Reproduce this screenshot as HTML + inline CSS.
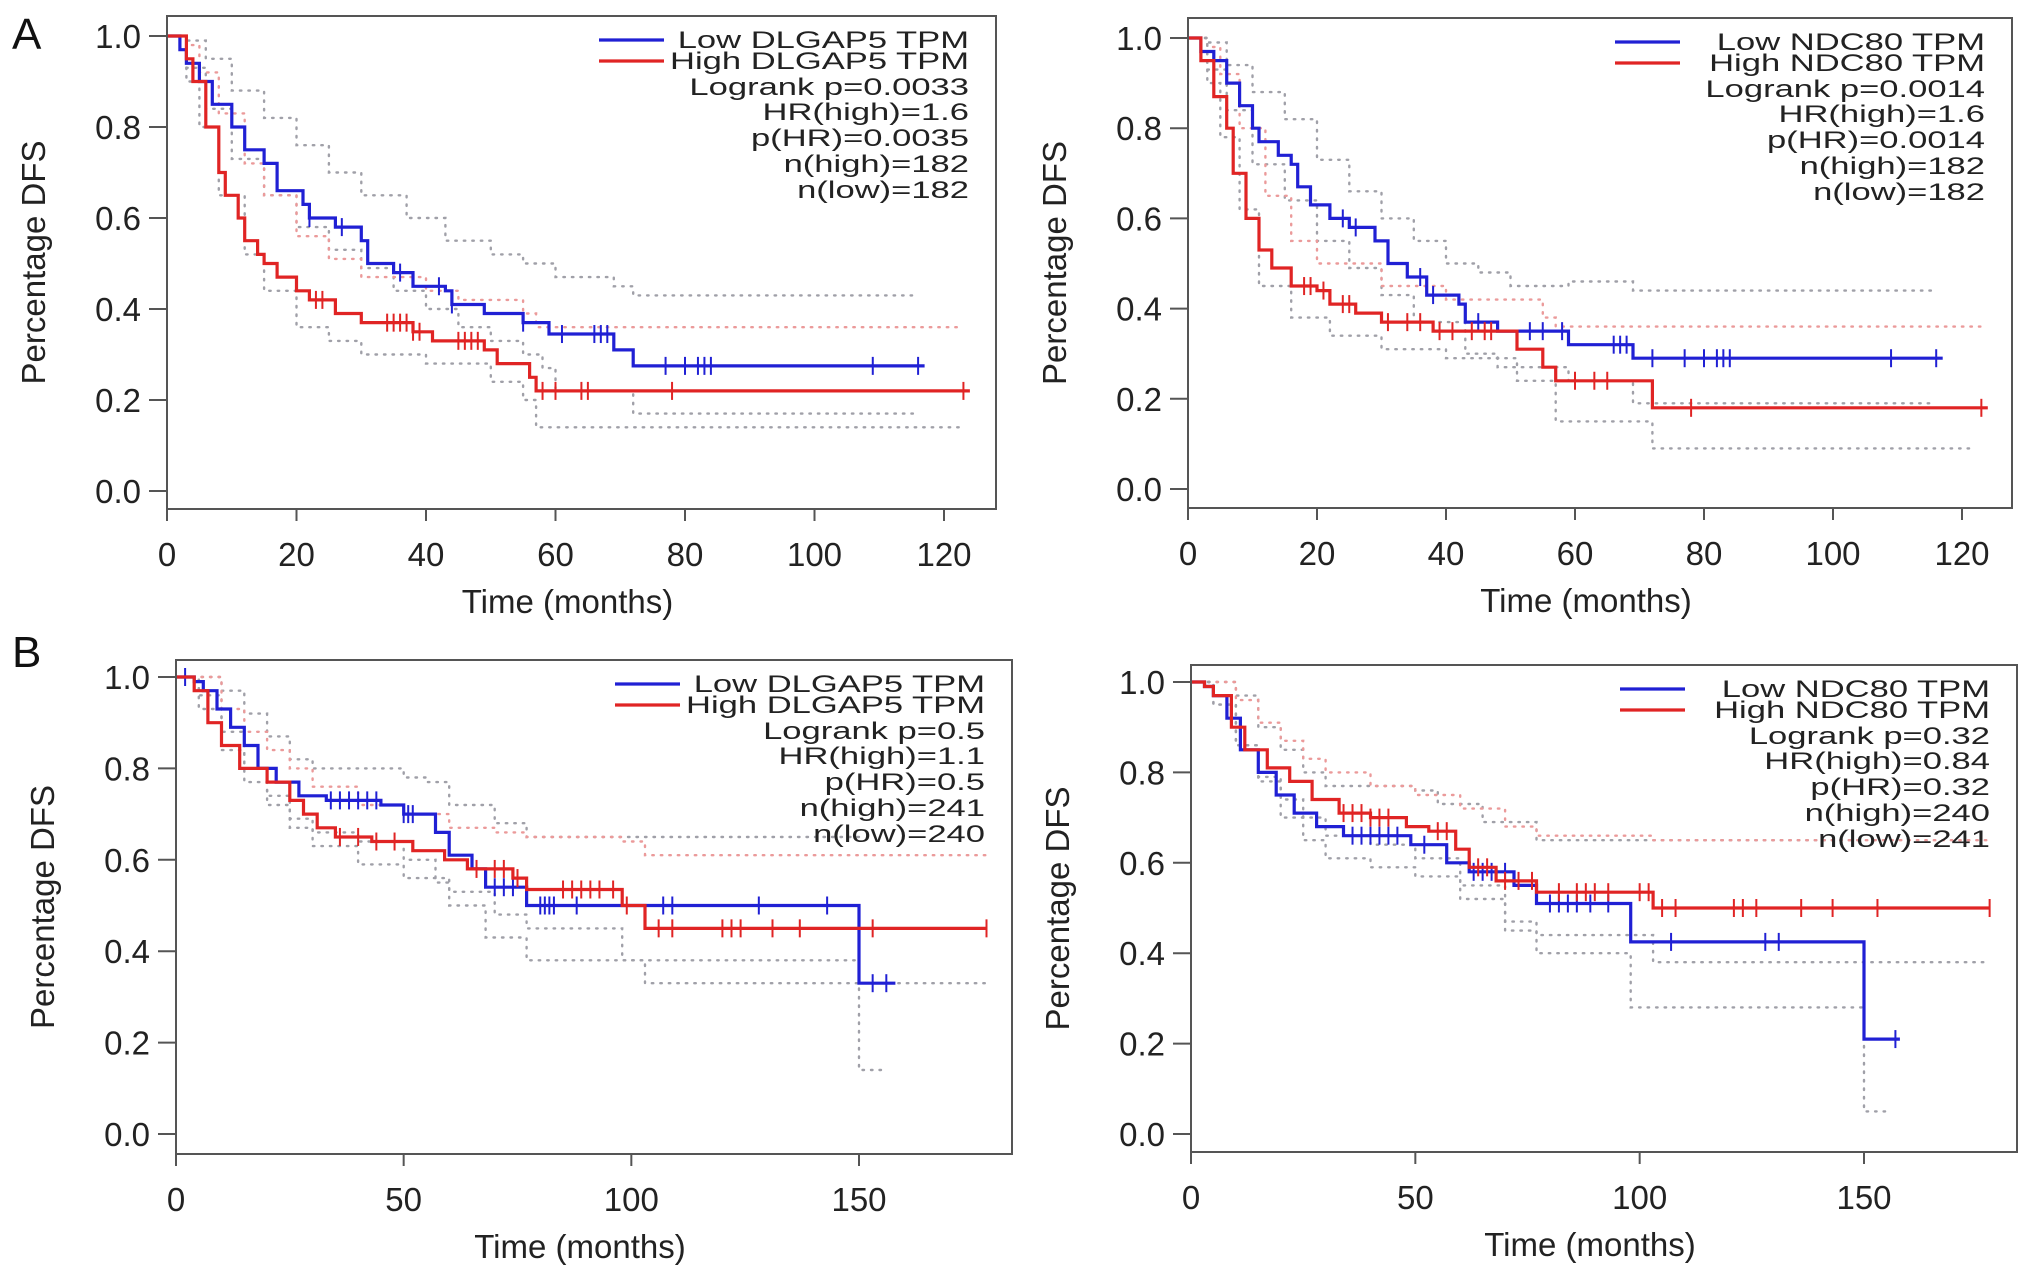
<!DOCTYPE html>
<html><head><meta charset="utf-8"><title>DFS Kaplan-Meier curves</title>
<style>
html,body{margin:0;padding:0;background:#fff;}
svg{display:block;font-family:"Liberation Sans",Arial,sans-serif;}
</style></head>
<body>
<svg id="fig" width="2032" height="1272" viewBox="0 0 2032 1272" xmlns="http://www.w3.org/2000/svg">
<rect x="0" y="0" width="2032" height="1272" fill="#fff"/>
<text x="12" y="49" font-size="44" fill="#111">A</text>
<text x="12" y="667" font-size="44" fill="#111">B</text>
</svg>
<script>
// ===== Panel A-left (DLGAP5, A) =====
const aLeftLowT = [2,3,5,7,10,12,15,17,21,22,26,30,31,35,38,43,44,49,55,59,69,72];
const aLeftLowS = [0.97,0.94,0.9,0.85,0.8,0.75,0.72,0.66,0.63,0.6,0.58,0.55,0.5,0.48,0.45,0.44,0.41,0.39,0.37,0.345,0.31,0.275];
const aLeftLowEnd = 117;
const aLeftLowCens = [22,27,36,42,44,55,61,66,67,68,77,80,82,83,84,109,116];
const aLeftHighT = [3,4,6,8,9,11,12,14,15,17,20,22,26,30,38,41,49,51,56,57];
const aLeftHighS = [0.95,0.9,0.8,0.7,0.65,0.6,0.55,0.52,0.5,0.47,0.44,0.42,0.39,0.37,0.35,0.33,0.31,0.28,0.25,0.22];
const aLeftHighEnd = 124;
const aLeftHighCens = [23,24,34,35,36,37,38,39,45,46,47,48,58,60,64,65,78,123];
const aLeftLowUpT = [3,6,10,15,20,25,30,37,43,50,55,60,69,72];
const aLeftLowUpS = [0.99,0.95,0.88,0.82,0.76,0.7,0.65,0.6,0.55,0.52,0.5,0.47,0.45,0.43];
const aLeftLowUpEnd = 116;
const aLeftLowLoT = [3,6,10,15,20,25,30,35,40,45,50,55,58,60,72];
const aLeftLowLoS = [0.93,0.84,0.73,0.65,0.58,0.53,0.49,0.44,0.4,0.36,0.33,0.3,0.27,0.22,0.17];
const aLeftLowLoEnd = 116;
const aLeftHighUpT = [3,5,8,12,15,20,25,30,40,45,55,57];
const aLeftHighUpS = [0.98,0.92,0.83,0.72,0.65,0.56,0.51,0.47,0.44,0.42,0.39,0.36];
const aLeftHighUpEnd = 123;
const aLeftHighLoT = [3,5,8,12,15,20,25,30,40,50,55,57];
const aLeftHighLoS = [0.9,0.8,0.65,0.52,0.44,0.36,0.33,0.3,0.28,0.24,0.2,0.14];
const aLeftHighLoEnd = 123;

// ===== Panel A-right (NDC80, A) =====
const aRightLowT = [2,4,6,8,10,11,14,16,17,19,22,25,29,31,34,37,42,43,48,59,69];
const aRightLowS = [0.97,0.95,0.9,0.85,0.8,0.77,0.74,0.72,0.67,0.63,0.6,0.58,0.55,0.5,0.47,0.43,0.41,0.37,0.35,0.32,0.29];
const aRightLowEnd = 117;
const aRightLowCens = [24,26,36,38,45,53,55,58,66,67,68,72,77,80,82,83,84,109,116];
const aRightHighT = [2,4,6,7,9,11,13,16,20,22,26,30,38,51,55,57,72];
const aRightHighS = [0.95,0.87,0.8,0.7,0.6,0.53,0.49,0.45,0.44,0.41,0.39,0.37,0.35,0.31,0.27,0.24,0.18];
const aRightHighEnd = 124;
const aRightHighCens = [18,19,21,24,25,31,34,36,39,41,44,46,47,60,63,65,78,123];
const aRightLowUpT = [3,6,10,15,20,25,30,35,40,45,50,59,69];
const aRightLowUpS = [0.99,0.94,0.88,0.82,0.73,0.66,0.6,0.55,0.5,0.48,0.45,0.46,0.44];
const aRightLowUpEnd = 116;
const aRightLowLoT = [3,6,10,15,20,25,30,35,43,48,59,69];
const aRightLowLoS = [0.93,0.84,0.72,0.64,0.55,0.49,0.43,0.37,0.3,0.27,0.24,0.19];
const aRightLowLoEnd = 116;
const aRightHighUpT = [3,5,8,12,16,20,30,40,55,57];
const aRightHighUpS = [0.98,0.92,0.8,0.65,0.55,0.5,0.45,0.42,0.38,0.36];
const aRightHighUpEnd = 123;
const aRightHighLoT = [3,5,8,11,16,22,30,40,51,57,72];
const aRightHighLoS = [0.9,0.78,0.62,0.45,0.38,0.34,0.31,0.29,0.24,0.15,0.09];
const aRightHighLoEnd = 122;

// ===== Panel B-left (DLGAP5, B) =====
const bLeftLowT = [4,6,9,12,15,18,22,27,33,45,50,57,60,65,68,77,150];
const bLeftLowS = [0.99,0.97,0.93,0.89,0.85,0.8,0.77,0.74,0.73,0.72,0.7,0.66,0.61,0.58,0.54,0.5,0.33];
const bLeftLowEnd = 158;
const bLeftLowCens = [2,34,36,38,40,42,44,50,51,52,70,72,74,80,81,82,83,88,107,109,128,143,153,156];
const bLeftHighT = [4,7,10,14,20,25,28,31,35,43,52,59,64,74,77,98,103];
const bLeftHighS = [0.97,0.9,0.85,0.8,0.77,0.73,0.7,0.67,0.65,0.64,0.62,0.6,0.58,0.56,0.535,0.5,0.45];
const bLeftHighEnd = 178;
const bLeftHighCens = [36,40,44,48,66,70,72,75,85,87,89,91,93,96,99,106,109,120,122,124,131,137,153,178];
const bLeftLowUpT = [5,10,15,20,25,30,40,50,55,60,70,77,150];
const bLeftLowUpS = [1.0,0.97,0.92,0.87,0.82,0.8,0.8,0.78,0.77,0.72,0.68,0.65,0.65];
const bLeftLowUpEnd = 150;
const bLeftLowLoT = [5,10,15,20,25,30,40,50,57,60,68,77,150];
const bLeftLowLoS = [0.96,0.88,0.8,0.74,0.69,0.66,0.64,0.6,0.55,0.5,0.43,0.38,0.14];
const bLeftLowLoEnd = 155;
const bLeftHighUpT = [5,10,15,20,25,30,40,50,60,70,77,98,103];
const bLeftHighUpS = [1.0,0.93,0.88,0.84,0.8,0.76,0.72,0.7,0.67,0.66,0.65,0.64,0.61];
const bLeftHighUpEnd = 178;
const bLeftHighLoT = [5,10,15,20,25,30,40,50,60,70,77,98,103];
const bLeftHighLoS = [0.93,0.84,0.77,0.72,0.67,0.63,0.59,0.56,0.53,0.48,0.45,0.38,0.33];
const bLeftHighLoEnd = 178;

// ===== Panel B-right (NDC80, B) =====
const bRightLowT = [3,5,8,11,15,19,23,28,34,49,57,62,72,77,98,150];
const bRightLowS = [0.99,0.97,0.92,0.85,0.8,0.75,0.71,0.68,0.66,0.64,0.6,0.58,0.55,0.51,0.425,0.21];
const bRightLowEnd = 158;
const bRightLowCens = [36,38,40,42,44,46,52,63,65,67,70,80,82,84,86,89,93,107,128,131,157];
const bRightHighT = [3,5,9,12,17,22,27,33,40,48,53,59,62,68,77,103];
const bRightHighS = [0.99,0.97,0.9,0.85,0.81,0.78,0.74,0.71,0.7,0.68,0.67,0.63,0.59,0.56,0.535,0.5];
const bRightHighEnd = 178;
const bRightHighCens = [34,36,38,40,42,44,55,57,64,66,70,73,76,82,86,88,90,93,100,102,105,108,121,123,126,136,143,153,178];
const bRightLowUpT = [5,10,15,20,25,30,40,50,55,65,77,150];
const bRightLowUpS = [1.0,0.97,0.9,0.85,0.8,0.77,0.77,0.76,0.73,0.69,0.65,0.65];
const bRightLowUpEnd = 150;
const bRightLowLoT = [5,10,15,20,25,30,40,50,60,70,77,98,150];
const bRightLowLoS = [0.95,0.86,0.78,0.7,0.65,0.61,0.59,0.57,0.52,0.45,0.4,0.28,0.05];
const bRightLowLoEnd = 155;
const bRightHighUpT = [5,10,15,20,25,30,40,50,60,70,77,103];
const bRightHighUpS = [1.0,0.96,0.91,0.87,0.83,0.8,0.77,0.75,0.72,0.68,0.66,0.65];
const bRightHighUpEnd = 178;
const bRightHighLoT = [5,10,15,20,25,30,40,50,60,70,77,103];
const bRightHighLoS = [0.95,0.86,0.79,0.74,0.7,0.66,0.64,0.61,0.55,0.47,0.44,0.38];
const bRightHighLoEnd = 178;

// tick labels
const yTickVals = [0,0.2,0.4,0.6,0.8,1.0];
const yTickLabels = ["0.0","0.2","0.4","0.6","0.8","1.0"];
const xTicksA = [0,20,40,60,80,100,120];
const xTicksB = [0,50,100,150];

// legend texts
const legendALeft = ["Low DLGAP5 TPM","High DLGAP5 TPM","Logrank p=0.0033","HR(high)=1.6","p(HR)=0.0035","n(high)=182","n(low)=182"];
const legendARight = ["Low NDC80 TPM","High NDC80 TPM","Logrank p=0.0014","HR(high)=1.6","p(HR)=0.0014","n(high)=182","n(low)=182"];
const legendBLeft = ["Low DLGAP5 TPM","High DLGAP5 TPM","Logrank p=0.5","HR(high)=1.1","p(HR)=0.5","n(high)=241","n(low)=240"];
const legendBRight = ["Low NDC80 TPM","High NDC80 TPM","Logrank p=0.32","HR(high)=0.84","p(HR)=0.32","n(high)=240","n(low)=241"];

const NS = "http://www.w3.org/2000/svg";
const svg = document.getElementById('fig');
const BLUE = "#2020d4", RED = "#e02424";

function mk(tag, attrs, parent){
  const e = document.createElementNS(NS, tag);
  for (const k in attrs) e.setAttribute(k, attrs[k]);
  parent.appendChild(e);
  return e;
}

function drawPanel(p){
  const g = mk('g', {}, svg);
  
  
  const xs = t => p.x0 + (t / p.xmax) * (p.xm - p.x0);
  const ys = v => p.y0 - v * (p.y0 - p.y1);

  function stepPath(T, S, end){
    let d = 'M' + xs(0).toFixed(1) + ',' + ys(1).toFixed(1);
    for (let i = 0; i < T.length; i++){
      d += 'H' + xs(T[i]).toFixed(1) + 'V' + ys(S[i]).toFixed(1);
    }
    d += 'H' + xs(end).toFixed(1);
    return d;
  }
  function valAt(T, S, t){
    let v = 1;
    for (let i = 0; i < T.length; i++) if (T[i] <= t) v = S[i];
    return v;
  }
  p.ci.forEach(c => {
    const e = mk('path', {d: stepPath(c.T, c.S, c.end), fill:'none', stroke:c.col, 'stroke-width':2.4, 'stroke-dasharray':'1.5 7', 'stroke-linecap':'round'}, g);
    
    
  });
  p.curves.forEach(c => {
    const e = mk('path', {d: stepPath(c.T, c.S, c.end), fill:'none', stroke:c.col, 'stroke-width':3.2}, g);
    
    
    c.cens.forEach(t => {
      const v = valAt(c.T, c.S, t);
      const m = mk('line', {x1:xs(t), x2:xs(t), y1:ys(v)-9, y2:ys(v)+9, stroke:c.col, 'stroke-width':2}, g);
      
      
    });
  });
  const fr = mk('rect', {x:p.L, y:p.T, width:p.R-p.L, height:p.B-p.T, fill:'none', stroke:'#555', 'stroke-width':2}, g);
  
  
  yTickVals.forEach((v, i) => {
    const y = ys(v);
    const tl = mk('line', {x1:p.L-18, x2:p.L, y1:y, y2:y, stroke:'#555', 'stroke-width':2}, g);
    
    
    const tx = mk('text', {x:p.L-26, y:y+12, 'font-size':33, 'text-anchor':'end', fill:'#222'}, g);
    
    
    tx.textContent = yTickLabels[i];
  });
  p.xticks.forEach(t => {
    const x = xs(t);
    const tl = mk('line', {x1:x, x2:x, y1:p.B, y2:p.B+12, stroke:'#555', 'stroke-width':2}, g);
    
    
    const tx = mk('text', {x:x, y:p.B+57, 'font-size':33, 'text-anchor':'middle', fill:'#222'}, g);
    
    
    tx.textContent = String(t);
  });
  const xt = mk('text', {x:(p.L+p.R)/2-14, y:p.B+104, 'font-size':33, 'text-anchor':'middle', fill:'#222'}, g);
  
  
  xt.textContent = 'Time (months)';
  const cy = (p.T+p.B)/2;
  const yt = mk('text', {x:p.L-122, y:cy, 'font-size':33, 'text-anchor':'middle', fill:'#222', transform:'rotate(-90 '+(p.L-122)+' '+cy+')'}, g);
  
  
  yt.textContent = 'Percentage DFS';
  const offs = [32,53,79,104,130,156,182];
  const lg = mk('g', {}, g);
  
  
  [BLUE, RED].forEach((col, i) => {
    const ln = mk('line', {x1:p.R-397, x2:p.R-332, y1:p.T+offs[i]-8, y2:p.T+offs[i]-8, stroke:col, 'stroke-width':3.2}, lg);
    
    
  });
  p.legend.forEach((s, i) => {
    const xr = p.R - 27;
    const tg = mk('g', {transform:'translate('+xr+','+(p.T+offs[i])+') scale(1.44,1)'}, lg);
    const tx = mk('text', {x:0, y:0, 'font-size':24, 'text-anchor':'end', fill:'#222'}, tg);
    
    
    tx.textContent = s;
  });
}

const GREY = "#a0a0a8", PINK = "#eb9a9a";
drawPanel({name:'panel-a-dlgap5', L:167, R:996, T:16, B:509, x0:167, xm:944, xmax:120, y0:491, y1:36, xticks:xTicksA, legend:legendALeft,
  curves:[{nm:'low-dlgap5-curve', T:aLeftLowT, S:aLeftLowS, end:aLeftLowEnd, cens:aLeftLowCens, col:BLUE},
          {nm:'high-dlgap5-curve', T:aLeftHighT, S:aLeftHighS, end:aLeftHighEnd, cens:aLeftHighCens, col:RED}],
  ci:[{nm:'low-ci-upper', T:aLeftLowUpT, S:aLeftLowUpS, end:aLeftLowUpEnd, col:GREY},
      {nm:'low-ci-lower', T:aLeftLowLoT, S:aLeftLowLoS, end:aLeftLowLoEnd, col:GREY},
      {nm:'high-ci-upper', T:aLeftHighUpT, S:aLeftHighUpS, end:aLeftHighUpEnd, col:PINK},
      {nm:'high-ci-lower', T:aLeftHighLoT, S:aLeftHighLoS, end:aLeftHighLoEnd, col:GREY}]});
drawPanel({name:'panel-a-ndc80', L:1188, R:2012, T:18, B:508, x0:1188, xm:1962, xmax:120, y0:489, y1:38, xticks:xTicksA, legend:legendARight,
  curves:[{nm:'low-ndc80-curve', T:aRightLowT, S:aRightLowS, end:aRightLowEnd, cens:aRightLowCens, col:BLUE},
          {nm:'high-ndc80-curve', T:aRightHighT, S:aRightHighS, end:aRightHighEnd, cens:aRightHighCens, col:RED}],
  ci:[{nm:'low-ci-upper', T:aRightLowUpT, S:aRightLowUpS, end:aRightLowUpEnd, col:GREY},
      {nm:'low-ci-lower', T:aRightLowLoT, S:aRightLowLoS, end:aRightLowLoEnd, col:GREY},
      {nm:'high-ci-upper', T:aRightHighUpT, S:aRightHighUpS, end:aRightHighUpEnd, col:PINK},
      {nm:'high-ci-lower', T:aRightHighLoT, S:aRightHighLoS, end:aRightHighLoEnd, col:GREY}]});
drawPanel({name:'panel-b-dlgap5', L:176, R:1012, T:660, B:1154, x0:176, xm:859, xmax:150, y0:1134, y1:677, xticks:xTicksB, legend:legendBLeft,
  curves:[{nm:'low-dlgap5-curve', T:bLeftLowT, S:bLeftLowS, end:bLeftLowEnd, cens:bLeftLowCens, col:BLUE},
          {nm:'high-dlgap5-curve', T:bLeftHighT, S:bLeftHighS, end:bLeftHighEnd, cens:bLeftHighCens, col:RED}],
  ci:[{nm:'low-ci-upper', T:bLeftLowUpT, S:bLeftLowUpS, end:bLeftLowUpEnd, col:GREY},
      {nm:'low-ci-lower', T:bLeftLowLoT, S:bLeftLowLoS, end:bLeftLowLoEnd, col:GREY},
      {nm:'high-ci-upper', T:bLeftHighUpT, S:bLeftHighUpS, end:bLeftHighUpEnd, col:PINK},
      {nm:'high-ci-lower', T:bLeftHighLoT, S:bLeftHighLoS, end:bLeftHighLoEnd, col:GREY}]});
drawPanel({name:'panel-b-ndc80', L:1191, R:2017, T:665, B:1152, x0:1191, xm:1864, xmax:150, y0:1134, y1:682, xticks:xTicksB, legend:legendBRight,
  curves:[{nm:'low-ndc80-curve', T:bRightLowT, S:bRightLowS, end:bRightLowEnd, cens:bRightLowCens, col:BLUE},
          {nm:'high-ndc80-curve', T:bRightHighT, S:bRightHighS, end:bRightHighEnd, cens:bRightHighCens, col:RED}],
  ci:[{nm:'low-ci-upper', T:bRightLowUpT, S:bRightLowUpS, end:bRightLowUpEnd, col:GREY},
      {nm:'low-ci-lower', T:bRightLowLoT, S:bRightLowLoS, end:bRightLowLoEnd, col:GREY},
      {nm:'high-ci-upper', T:bRightHighUpT, S:bRightHighUpS, end:bRightHighUpEnd, col:PINK},
      {nm:'high-ci-lower', T:bRightHighLoT, S:bRightHighLoS, end:bRightHighLoEnd, col:GREY}]});
</script>
</body></html>
